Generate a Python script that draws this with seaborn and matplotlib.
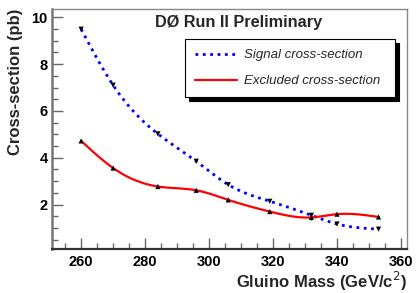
import numpy as np
import seaborn as sns
import matplotlib.pyplot as plt

# values
mass = [260, 270, 284, 296, 306, 319, 332, 340, 353]
signal_xs = [9.49, 7.10, 5.02, 3.85, 2.85, 2.14, 1.54, 1.17, 0.95]
excluded_xs = [4.72, 3.56, 2.77, 2.61, 2.20, 1.70, 1.45, 1.59, 1.47]
signal_err = [0, 0, 0, 0, 0, 0, 0.1, 0, 0]
excluded_err = [0, 0, 0, 0, 0, 0, 0.1, 0, 0]


def smooth(x, y, n=300):
    # natural cubic spline through the points (like ROOT's "C" draw option)
    x = np.asarray(x, float)
    y = np.asarray(y, float)
    k = len(x)
    h = np.diff(x)
    A = np.zeros((k, k))
    b = np.zeros(k)
    A[0, 0] = A[-1, -1] = 1
    for i in range(1, k - 1):
        A[i, i - 1] = h[i - 1]
        A[i, i] = 2 * (h[i - 1] + h[i])
        A[i, i + 1] = h[i]
        b[i] = 6 * ((y[i + 1] - y[i]) / h[i] - (y[i] - y[i - 1]) / h[i - 1])
    m = np.linalg.solve(A, b)
    xs = np.linspace(x[0], x[-1], n)
    j = np.clip(np.searchsorted(x, xs) - 1, 0, k - 2)
    t = xs - x[j]
    hj = h[j]
    ys = (m[j] * (x[j + 1] - xs) ** 3 / (6 * hj) + m[j + 1] * t ** 3 / (6 * hj)
          + (y[j] / hj - m[j] * hj / 6) * (x[j + 1] - xs)
          + (y[j + 1] / hj - m[j + 1] * hj / 6) * t)
    return xs, ys


sns.set_style("white")
plt.rcParams['font.family'] = ['Liberation Sans', 'DejaVu Sans']

fig = plt.figure(figsize=(4.19, 2.93), dpi=100)
ax = fig.add_axes([0.1234, 0.150, 0.8472, 0.819])

sx, sy = smooth(mass, signal_xs)
ex, ey = smooth(mass, excluded_xs)
sns.lineplot(x=sx, y=sy, ax=ax, color='#0000ff', linestyle=':', linewidth=2,
             label='Signal cross-section', sort=False)
sns.lineplot(x=ex, y=ey, ax=ax, color='#ff0000', linestyle='-', linewidth=1.6,
             label='Excluded cross-section', sort=False)

ax.errorbar(mass, signal_xs, yerr=signal_err, fmt='none', ecolor='black', elinewidth=0.8)
ax.errorbar(mass, excluded_xs, yerr=excluded_err, fmt='none', ecolor='black', elinewidth=0.8)
sns.scatterplot(x=mass, y=signal_xs, ax=ax, marker='v', color='black', s=14,
                edgecolor='none', zorder=5)
sns.scatterplot(x=mass, y=excluded_xs, ax=ax, marker='^', color='black', s=14,
                edgecolor='none', zorder=5)

ax.set_xlim(250.8, 361.8)
ax.set_ylim(0.1, 10.35)
ax.set_xticks([260, 280, 300, 320, 340, 360])
ax.set_xticks(np.arange(255, 361, 5), minor=True)
ax.set_yticks([2, 4, 6, 8, 10])
ax.set_yticks(np.arange(0.5, 10.1, 0.5), minor=True)
ax.tick_params(which='both', direction='in', colors='#666666', labelcolor='black',
               labelsize=10.5, bottom=True, left=True, top=False, right=False)
ax.tick_params(which='major', length=8, width=1)
ax.tick_params(which='minor', length=4, width=1)
for lbl in ax.get_xticklabels() + ax.get_yticklabels():
    lbl.set_fontweight('bold')
ax.tick_params(axis='x', pad=4)
ax.tick_params(axis='y', pad=3)

ax.spines['left'].set_color('#777777')
ax.spines['left'].set_linewidth(1.8)
ax.spines['bottom'].set_color('#333333')
ax.spines['bottom'].set_linewidth(1.6)
for s in ['top', 'right']:
    ax.spines[s].set_color('#888888')
    ax.spines[s].set_linewidth(1)

ax.set_xlabel('Gluino Mass (GeV/c$^{2}$)', fontsize=12, fontweight='bold',
              loc='right', labelpad=1)
ax.set_ylabel('Cross-section (pb)', fontsize=12, fontweight='bold',
              loc='top', labelpad=6)

ax.text(0.525, 0.975, 'DØ Run II Preliminary', transform=ax.transAxes,
        ha='center', va='top', fontsize=11.7, fontweight='bold')

leg = ax.legend(loc='upper left', bbox_to_anchor=(0.375, 0.875, 0.592, 0.0),
                mode='expand', fancybox=False, framealpha=1, edgecolor='black',
                shadow={'color': 'black', 'alpha': 1, 'ox': 3, 'oy': -3},
                prop={'style': 'italic', 'size': 9.5}, handlelength=3.2,
                labelspacing=1.05, borderpad=0.75, handletextpad=0.5,
                borderaxespad=0)
leg.get_frame().set_linewidth(0.8)

fig.savefig('out.png', dpi=100)
